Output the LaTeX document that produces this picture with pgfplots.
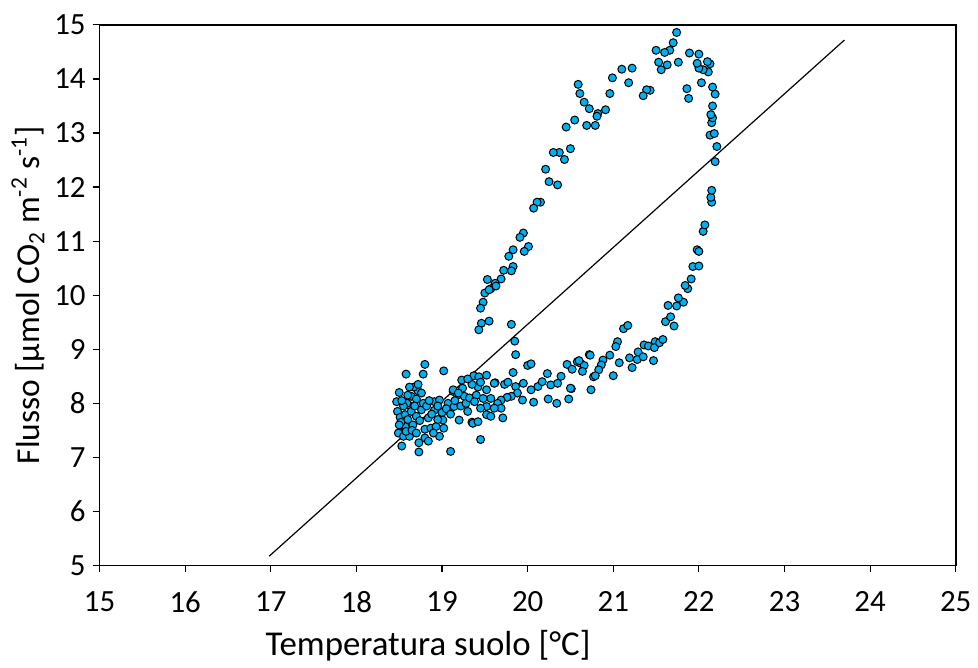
\documentclass[border=0pt]{standalone}
\usepackage{pgfplots}
\pgfplotsset{compat=1.18}
\usepackage{pgfplotstable}
\usepackage{fontspec}
\setmainfont{Carlito}

\definecolor{dotblue}{RGB}{0,176,240}

% soil temperature vs CO2 flux (hysteresis loop)
\pgfplotstableread{
x y
18.58 8.54
18.78 8.54
19.02 8.60
18.80 8.72
19.23 8.43
19.37 8.51
18.50 8.20
18.72 8.23
18.76 8.19
18.64 8.13
18.70 8.08
18.47 8.03
18.62 7.96
18.59 8.00
18.76 7.88
18.91 8.03
18.97 8.06
19.13 8.22
19.18 8.15
19.24 8.28
19.26 8.13
19.07 8.00
19.14 7.94
18.91 7.87
19.00 7.83
18.48 7.85
18.51 7.74
18.57 7.79
18.64 7.85
18.70 7.76
18.74 7.68
18.84 7.73
19.01 7.69
19.20 7.69
19.35 7.65
18.53 7.59
18.57 7.57
18.66 7.60
18.80 7.52
18.87 7.54
18.93 7.57
19.02 7.54
18.49 7.45
18.55 7.39
18.62 7.39
18.80 7.36
18.84 7.30
18.97 7.39
18.53 7.21
18.73 7.27
18.73 7.10
19.10 7.11
19.13 8.25
19.19 8.19
18.55 7.95
18.60 7.70
18.68 7.95
18.78 8.00
18.82 7.95
18.88 7.80
18.95 7.70
18.52 7.65
18.58 7.48
18.65 7.50
18.70 7.45
18.90 7.45
19.05 7.90
19.10 7.80
19.15 8.05
19.22 7.95
19.28 8.00
19.30 7.85
19.32 8.10
19.40 8.15
19.42 8.30
19.35 8.35
19.30 8.45
18.50 7.60
18.53 8.05
18.60 8.15
18.67 8.30
18.72 8.35
18.62 8.30
18.85 8.05
18.95 7.95
19.43 8.49
19.52 8.52
19.45 8.39
19.62 8.38
19.73 8.35
19.77 8.39
19.61 8.37
19.52 8.25
19.86 8.31
19.88 8.19
19.81 8.13
19.76 8.11
19.69 8.06
19.65 8.00
19.57 8.09
19.48 8.09
19.52 7.94
19.45 7.91
19.38 8.03
19.36 7.63
19.52 7.79
19.57 7.76
19.71 7.73
19.69 7.91
19.61 7.91
19.42 7.66
19.45 7.33
19.95 8.37
20.04 8.25
20.12 8.31
20.17 8.40
20.27 8.34
20.35 8.37
20.07 8.02
19.94 8.06
20.24 8.08
20.34 8.00
20.00 8.70
20.04 8.73
20.23 8.55
20.39 8.50
20.46 8.72
20.52 8.63
20.58 8.77
20.62 8.74
20.66 8.70
20.64 8.59
20.51 8.27
20.48 8.08
20.60 8.79
20.72 8.90
20.77 8.49
20.74 8.25
20.50 8.28
19.83 8.57
19.86 8.90
19.85 9.15
19.81 9.46
20.73 8.89
20.96 8.89
20.88 8.80
21.07 8.75
20.86 8.71
20.83 8.62
20.79 8.51
21.00 8.51
21.19 8.84
21.22 8.66
21.29 8.95
21.28 8.81
21.35 8.86
21.36 9.08
21.41 9.06
21.49 9.14
21.48 9.03
21.54 9.12
21.58 9.18
21.47 8.79
21.05 9.14
21.03 9.05
21.12 9.38
21.17 9.44
21.61 9.51
21.71 9.43
21.67 9.60
21.64 9.81
21.74 9.80
21.82 9.87
21.76 9.95
21.87 10.12
21.84 10.18
21.91 10.30
21.93 10.53
22.00 10.54
21.98 10.84
22.00 10.81
22.05 11.18
22.07 11.30
22.15 11.72
22.14 11.81
22.15 11.94
22.19 12.47
22.21 12.75
22.13 12.96
22.18 12.99
22.15 13.19
22.16 13.28
22.14 13.34
22.16 13.50
22.19 13.72
22.16 13.85
22.03 13.93
22.11 14.13
22.13 14.28
22.10 14.32
22.05 14.17
22.00 14.20
21.98 14.29
22.00 14.46
21.89 14.48
21.86 13.82
21.88 13.64
21.76 14.31
21.74 14.86
21.70 14.67
21.66 14.53
21.63 14.26
21.60 14.49
21.56 14.17
21.53 14.31
21.50 14.53
21.43 13.79
21.39 13.80
21.35 13.69
21.18 13.93
21.22 14.20
21.10 14.18
20.99 14.02
20.96 13.73
20.91 13.43
20.82 13.36
20.81 13.31
20.79 13.14
20.69 13.14
20.72 13.45
20.66 13.57
20.61 13.73
20.59 13.90
20.55 13.24
20.45 13.11
20.50 12.71
20.37 12.64
20.30 12.64
20.43 12.51
20.21 12.33
20.25 12.10
20.35 12.04
20.15 11.72
20.11 11.72
20.07 11.61
19.95 11.15
19.91 11.07
20.01 10.90
19.96 10.81
19.83 10.84
19.78 10.72
19.83 10.53
19.81 10.45
19.72 10.46
19.69 10.30
19.53 10.29
19.62 10.22
19.57 10.12
19.63 10.17
19.50 10.04
19.55 10.10
19.48 9.87
19.45 9.76
19.55 9.52
19.46 9.48
19.43 9.36
}\fluxdata

\begin{document}
\begin{tikzpicture}
\begin{axis}[
  scale only axis,
  width=430pt, height=271.5pt,
  xmin=15, xmax=25, ymin=5, ymax=15,
  xtick={15,16,...,25}, ytick={5,6,...,15},
  tick align=outside,
  xtick pos=bottom, ytick pos=left,
  major tick length=3.5pt,
  axis line style={black, line width=0.8pt},
  tick style={black, line width=0.6pt},
  /pgf/number format/assume math mode=true,
  ticklabel style={font=\fontsize{15.5}{15.5}\selectfont},
  xticklabel style={yshift=-6pt},
  yticklabel style={xshift=0pt},
  xlabel={Temperatura suolo [°C]},
  ylabel={Flusso [µmol CO\textsubscript{2} m\textsuperscript{-2} s\textsuperscript{-1}]},
  label style={font=\fontsize{17.5}{17.5}\selectfont},
  xlabel style={xshift=-50pt, yshift=-2pt},
  ylabel style={font=\fontsize{16.8}{16.8}\selectfont, yshift=-2pt},
  clip=false,
]
\addplot[black, line width=0.6pt] coordinates {(16.98,5.17) (23.70,14.72)};
\addplot[only marks, mark=*, mark size=2pt,
  mark options={fill=dotblue, draw=black, line width=0.5pt}] table {\fluxdata};
\coordinate (sw) at (rel axis cs:0,0);
\coordinate (ne) at (rel axis cs:1,1);
\end{axis}
\path ([shift={(-50pt,-44.5pt)}]sw) rectangle ([shift={(9pt,12.5pt)}]ne);
\end{tikzpicture}
\end{document}
